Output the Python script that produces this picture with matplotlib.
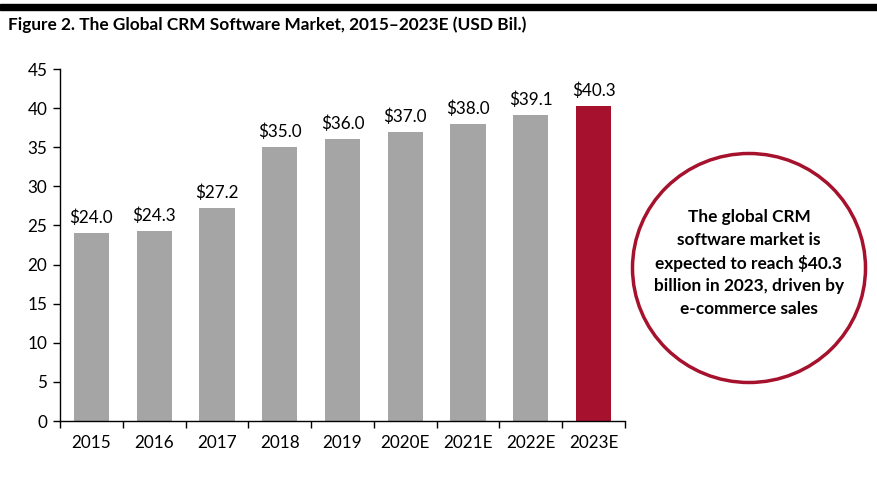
import matplotlib
matplotlib.use("Agg")
import matplotlib.pyplot as plt
from matplotlib.patches import Ellipse, Rectangle
import numpy as np

categories = ["2015", "2016", "2017", "2018", "2019", "2020E", "2021E", "2022E", "2023E"]
values = [24.0, 24.3, 27.2, 35.0, 36.0, 37.0, 38.0, 39.1, 40.3]
value_labels = ["$24.0", "$24.3", "$27.2", "$35.0", "$36.0", "$37.0", "$38.0", "$39.1", "$40.3"]
yticks = [0, 5, 10, 15, 20, 25, 30, 35, 40, 45]
title = "Figure 2. The Global CRM Software Market, 2015\u20132023E (USD Bil.)"
callout = "The global CRM\nsoftware market is\nexpected to reach $40.3\nbillion in 2023, driven by\ne-commerce sales"

plt.rcParams['font.family'] = ['Lato', 'DejaVu Sans']

W, H = 878, 478
fig = plt.figure(figsize=(W/100, H/100), dpi=100)

gray = "#A5A5A5"
red = "#A6122D"
colors = [gray]*8 + [red]

ax = fig.add_axes([60/W, (H-421)/H, (625-60)/W, (421-69)/H])
x = np.arange(len(categories))
ax.bar(x, values, width=0.56, color=colors)
for xi, v, lab in zip(x, values, value_labels):
    ax.text(xi, v + 0.9, lab, ha='center', va='bottom', fontsize=12.3)

ax.set_xlim(-0.5, len(categories) - 0.5)
ax.set_ylim(0, 45)
ax.set_yticks(yticks)
ax.set_yticklabels([str(t) for t in yticks], fontsize=12.3)
ax.set_xticks(x)
ax.set_xticklabels(categories, fontsize=12.3)
ax.tick_params(axis='x', length=0, pad=10)
ax.set_xticks(np.arange(-0.5, len(categories), 1.0), minor=True)
ax.tick_params(axis='x', which='minor', length=5, width=1, direction='out')
ax.tick_params(axis='y', length=5, width=1, direction='out', pad=4)
for s in ['top', 'right']:
    ax.spines[s].set_visible(False)
for s in ['left', 'bottom']:
    ax.spines[s].set_color('black')
    ax.spines[s].set_linewidth(1)

# top black rule
fig.patches.append(Rectangle((0, 1 - 10/H), 1, 6/H, transform=fig.transFigure,
                             color='black', zorder=5))
fig.text(8/W, 1 - 25/H, title, fontsize=12.4, fontweight='bold', va='center', ha='left')

# callout circle
cx, cy = 749, 268
fig.patches.append(Ellipse((cx/W, 1 - cy/H), 233/W, 229/H, transform=fig.transFigure,
                           facecolor='white', edgecolor=red, linewidth=2.5))
fig.text(cx/W, 1 - (cy - 5)/H, callout, ha='center', va='center', fontsize=12.4,
         fontweight='bold', linespacing=1.5)

fig.savefig("out.png", dpi=100)
